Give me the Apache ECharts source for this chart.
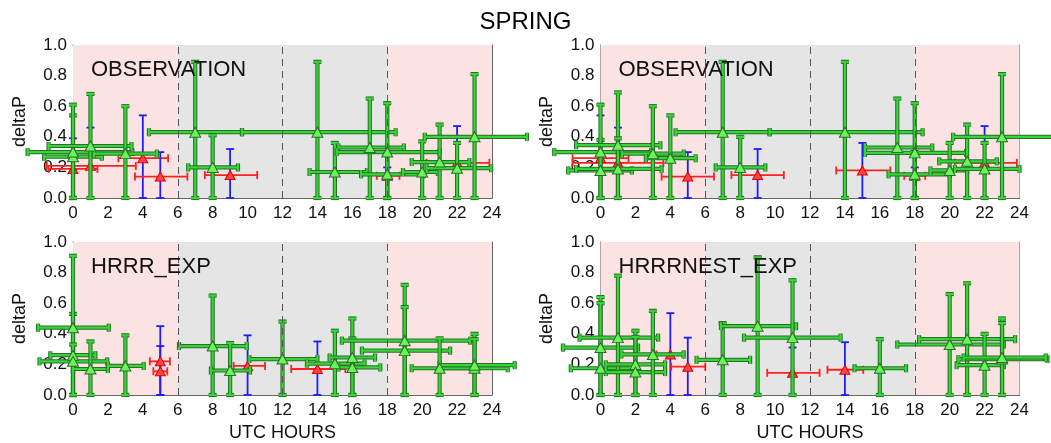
<!DOCTYPE html>
<html>
<head>
<meta charset="utf-8">
<script src="https://cdn.jsdelivr.net/npm/echarts@6/dist/echarts.min.js"></script>
<style>
  html, body { margin: 0; padding: 0; background: #fff; }
  #chart { width: 1051px; height: 443px; }
</style>
</head>
<body>
<div id="chart"></div>
<script>
// every row: [hour, deltaP, hourLow, hourHigh, deltaPLow, deltaPHigh]
const obsGreen = [
  [0, 0.27, -1.65, 1.65, 0, 0.54],
  [0, 0.30, -2.6, 3.4, 0, 0.61],
  [1, 0.34, -1.4, 3.35, 0, 0.68],
  [3, 0.29, 1.2, 4.8, 0, 0.60],
  [7, 0.43, 4.35, 9.68, 0, 0.89],
  [8, 0.20, 6.6, 9.45, 0, 0.41],
  [14, 0.43, 9.68, 18.48, 0, 0.89],
  [15, 0.17, 13.55, 16.84, 0, 0.36],
  [17, 0.33, 15.2, 18.95, 0, 0.65],
  [18, 0.30, 15.1, 21.0, 0, 0.62],
  [18, 0.155, 16.5, 20.1, 0, 0.30],
  [20, 0.17, 18.9, 20.9, 0, 0.37],
  [21, 0.235, 19.4, 22.7, 0, 0.48],
  [22, 0.195, 20.25, 23.95, 0, 0.36],
  [23, 0.40, 20.15, 26.0, 0, 0.81]
];
const obsRed = [
  [0, 0.19, -1.4, 1.4, 0, 0.39],
  [1, 0.21, -1.5, 3.6, 0, 0.46],
  [4, 0.26, 2.6, 5.45, 0, 0.54],
  [5, 0.14, 3.55, 6.55, 0, 0.30],
  [9, 0.15, 7.55, 10.55, 0, 0.32],
  [18, 0.145, 17.4, 18.7, 0, 0.20],
  [22, 0.23, 20.25, 23.85, 0, 0.47]
];
const obs2Green = [
  [0, 0.18, -1.85, 1.8, 0, 0.38],
  [0, 0.30, -2.65, 2.9, 0, 0.61],
  [1, 0.345, -1.4, 3.43, 0, 0.69],
  [1, 0.19, -1.4, 3.5, 0, 0.39],
  [3, 0.29, 1.23, 4.77, 0, 0.60],
  [4, 0.26, 2.6, 5.45, 0, 0.54],
  [7, 0.43, 4.3, 9.69, 0, 0.89],
  [8, 0.20, 6.6, 9.44, 0, 0.40],
  [14, 0.43, 9.69, 18.45, 0, 0.89],
  [17, 0.33, 15.15, 19.0, 0, 0.65],
  [18, 0.295, 15.15, 20.95, 0, 0.62],
  [18, 0.155, 16.5, 20.0, 0, 0.30],
  [20, 0.18, 18.9, 21.0, 0, 0.36],
  [21, 0.24, 19.4, 22.7, 0, 0.48],
  [22, 0.19, 20.3, 24.0, 0, 0.36],
  [23, 0.40, 20.2, 26.0, 0, 0.81]
];
const obs2Red = [
  [0, 0.26, -1.6, 1.6, 0, 0.54],
  [1, 0.23, -1.6, 3.6, 0, 0.46],
  [5, 0.14, 3.5, 6.5, 0, 0.30],
  [9, 0.15, 7.5, 10.5, 0, 0.32],
  [15, 0.18, 13.5, 16.6, 0, 0.36],
  [18, 0.145, 17.4, 18.6, 0, 0.20],
  [22, 0.23, 20.3, 23.85, 0, 0.47]
];
const hrrrGreen = [
  [0, 0.44, -2.0, 2.05, 0, 0.53],
  [0, 0.26, -1.3, 1.28, 0, 0.91],
  [0, 0.22, -1.92, 1.96, 0, 0.33],
  [1, 0.17, 0.0, 2.0, 0, 0.35],
  [3, 0.19, 2.0, 4.05, 0, 0.39],
  [8, 0.32, 6.07, 9.95, 0, 0.65],
  [9, 0.16, 7.9, 10.14, 0, 0.34],
  [12, 0.235, 10.1, 14.0, 0, 0.48],
  [15, 0.205, 13.4, 16.7, 0, 0.42],
  [16, 0.245, 14.7, 17.3, 0, 0.50],
  [16, 0.18, 15.2, 17.6, 0, 0.37],
  [19, 0.355, 15.4, 22.75, 0, 0.72],
  [19, 0.29, 16.55, 21.6, 0, 0.575],
  [21, 0.175, 19.4, 22.95, 0, 0.37],
  [23, 0.175, 21.1, 24.9, 0, 0.40],
  [23, 0.195, 21.0, 25.3, 0, 0.365]
];
const hrrrRed = [
  [5, 0.22, 4.4, 5.55, 0, 0.45],
  [5, 0.155, 4.6, 5.4, 0, 0.32],
  [10, 0.19, 9.2, 11.0, 0, 0.39],
  [14, 0.17, 12.5, 15.6, 0, 0.35]
];
const nestGreen = [
  [0, 0.31, -2.15, 2.15, 0, 0.64],
  [0, 0.175, -1.7, 1.7, 0, 0.60],
  [1, 0.375, -1.2, 3.3, 0, 0.78],
  [2, 0.20, 0.3, 3.7, 0, 0.42],
  [2, 0.15, 0.3, 3.7, 0, 0.38],
  [3, 0.265, 1.2, 4.76, 0, 0.55],
  [7, 0.23, 5.5, 8.57, 0, 0.47],
  [9, 0.45, 6.9, 11.2, 0, 0.90],
  [11, 0.375, 8.22, 13.75, 0, 0.75],
  [16, 0.175, 14.55, 17.5, 0, 0.365],
  [20, 0.33, 17.0, 23.1, 0, 0.66],
  [21, 0.365, 18.25, 23.75, 0, 0.73],
  [22, 0.195, 20.4, 23.1, 0, 0.40],
  [23, 0.235, 20.5, 25.6, 0, 0.50],
  [23, 0.245, 20.8, 25.5, 0, 0.47]
];
const nestRed = [
  [4, 0.265, 3.2, 4.8, 0, 0.535],
  [5, 0.185, 4.05, 6.0, 0, 0.375],
  [11, 0.145, 9.55, 12.55, 0, 0.31],
  [14, 0.165, 13.0, 15.05, 0, 0.345]
];

const panelNames = ["OBSERVATION", "OBSERVATION", "HRRR_EXP", "HRRRNEST_EXP"];
const panelGreen = [obsGreen, obs2Green, hrrrGreen, nestGreen];
const panelRed = [obsRed, obs2Red, hrrrRed, nestRed];
// shaded hour bands (from, to) and divider hours
const nightBands = [[0, 6], [18, 24]];
const dayBands = [[6, 18]];
const dividers = [6, 12, 18];

const FONT = "'Liberation Sans', Arial, sans-serif";
const boxes = [
  { left: 73, top: 45 },
  { left: 600.5, top: 45 },
  { left: 73, top: 242 },
  { left: 600.5, top: 242 }
];
const W = 419, H = 153;

function errorBars(hColor, vColor, outline) {
  return function (params, api) {
    const x = api.value(0), y = api.value(1);
    const l = api.coord([api.value(2), y]);
    const r = api.coord([api.value(3), y]);
    const b = api.coord([x, api.value(4)]);
    const t = api.coord([x, api.value(5)]);
    const cap = 4;
    const segs = [
      [l[0], l[1], r[0], r[1], hColor],
      [l[0], l[1] - cap, l[0], l[1] + cap, hColor],
      [r[0], r[1] - cap, r[0], r[1] + cap, hColor],
      [b[0], b[1], t[0], t[1], vColor],
      [b[0] - cap, b[1], b[0] + cap, b[1], vColor],
      [t[0] - cap, t[1], t[0] + cap, t[1], vColor]
    ];
    const children = [];
    if (outline) {
      segs.forEach(s => children.push({
        type: "line",
        shape: { x1: s[0], y1: s[1], x2: s[2], y2: s[3] },
        style: { stroke: outline, lineWidth: 4.2 }
      }));
    }
    segs.forEach(s => children.push({
      type: "line",
      shape: { x1: s[0], y1: s[1], x2: s[2], y2: s[3] },
      style: { stroke: s[4], lineWidth: outline ? 2.2 : 1.8 }
    }));
    return { type: "group", children: children };
  };
}

const option = {
  backgroundColor: "#fff",
  animation: false,
  title: [{
    text: "SPRING",
    left: "center",
    top: 5,
    textStyle: { fontSize: 24, fontWeight: "normal", color: "#000", fontFamily: FONT }
  }].concat(panelNames.map((n, i) => ({
    text: n,
    left: boxes[i].left + 18,
    top: boxes[i].top + 14,
    padding: 0,
    textStyle: { fontSize: 22, fontWeight: "normal", color: "#111", fontFamily: FONT }
  }))),
  grid: boxes.map(b => ({ left: b.left, top: b.top, width: W, height: H })),
  xAxis: [],
  yAxis: [],
  series: []
};

const frame = { show: true, onZero: false, lineStyle: { color: "#666", width: 1 } };
const tick = { show: true, inside: true, length: 6, lineStyle: { color: "#666" } };

boxes.forEach((b, i) => {
  const bottomRow = i >= 2;
  option.xAxis.push({
    gridIndex: i, type: "value", position: "bottom", min: 0, max: 24, interval: 2,
    axisLine: frame, axisTick: tick,
    minorTick: { show: true, splitNumber: 2, length: 3, lineStyle: { color: "#666" } },
    splitLine: { show: false },
    axisLabel: { fontSize: 17, color: "#111", margin: 7, fontFamily: FONT },
    name: bottomRow ? "UTC HOURS" : "",
    nameLocation: "middle", nameGap: 29,
    nameTextStyle: { fontSize: 18, color: "#111", fontFamily: FONT }
  });
  option.xAxis.push({
    gridIndex: i, type: "value", position: "top", min: 0, max: 24, interval: 2,
    axisLine: frame, axisTick: tick,
    minorTick: { show: true, splitNumber: 2, length: 3, lineStyle: { color: "#666" } },
    splitLine: { show: false }, axisLabel: { show: false }
  });
  option.yAxis.push({
    gridIndex: i, type: "value", position: "left", min: 0, max: 1, interval: 0.2,
    axisLine: frame, axisTick: tick,
    minorTick: { show: true, splitNumber: 4, length: 3, lineStyle: { color: "#666" } },
    splitLine: { show: false },
    axisLabel: { fontSize: 17, color: "#111", margin: 6, fontFamily: FONT, formatter: v => v.toFixed(1) },
    name: "deltaP", nameLocation: "middle", nameGap: 44, nameRotate: 90,
    nameTextStyle: { fontSize: 18, color: "#111", fontFamily: FONT }
  });
  option.yAxis.push({
    gridIndex: i, type: "value", position: "right", min: 0, max: 1, interval: 0.2,
    axisLine: frame, axisTick: tick,
    minorTick: { show: true, splitNumber: 4, length: 3, lineStyle: { color: "#666" } },
    splitLine: { show: false }, axisLabel: { show: false }
  });

  const xi = i * 2, yi = i * 2;

  // background bands and dashed dividers
  option.series.push({
    type: "line", xAxisIndex: xi, yAxisIndex: yi, data: [], z: 0, silent: true,
    markArea: {
      silent: true,
      data: nightBands.map(r => [{ xAxis: r[0], itemStyle: { color: "#fbe3e3" } }, { xAxis: r[1] }])
        .concat(dayBands.map(r => [{ xAxis: r[0], itemStyle: { color: "#e5e5e5" } }, { xAxis: r[1] }]))
    },
    markLine: {
      silent: true, symbol: "none", label: { show: false },
      lineStyle: { color: "#555", type: [7, 5], width: 1 },
      data: dividers.map(h => ({ xAxis: h }))
    }
  });

  option.series.push({
    type: "custom", xAxisIndex: xi, yAxisIndex: yi, z: 2,
    renderItem: errorBars("#ff2020", "#1c1cff", null),
    encode: { x: 0, y: 1 },
    data: panelRed[i]
  });
  option.series.push({
    type: "scatter", xAxisIndex: xi, yAxisIndex: yi, z: 3,
    symbol: "triangle", symbolSize: [10, 9],
    itemStyle: { color: "#ff4545", borderColor: "#e00000", borderWidth: 1, opacity: 1 },
    data: panelRed[i].map(d => [d[0], d[1]])
  });
  option.series.push({
    type: "custom", xAxisIndex: xi, yAxisIndex: yi, z: 4,
    renderItem: errorBars("#36d636", "#36d636", "#2a6e2a"),
    encode: { x: 0, y: 1 },
    data: panelGreen[i]
  });
  option.series.push({
    type: "scatter", xAxisIndex: xi, yAxisIndex: yi, z: 5,
    symbol: "triangle", symbolSize: [11, 10],
    itemStyle: { color: "#6cf45c", borderColor: "#2a6e2a", borderWidth: 1, opacity: 1 },
    data: panelGreen[i].map(d => [d[0], d[1]])
  });
});

const chart = echarts.init(document.getElementById("chart"));
chart.setOption(option);
</script>
</body>
</html>
